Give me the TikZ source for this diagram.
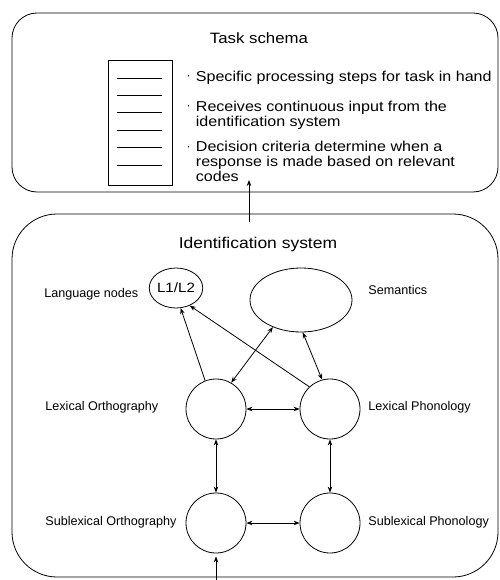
\documentclass[tikz,border=0pt]{standalone}
\usepackage{fontspec}
\setmainfont{Liberation Sans}
\newfontfamily\widesans[FakeStretch=1.12]{Liberation Sans}
\usetikzlibrary{arrows.meta,shapes.geometric}
\begin{document}
\begin{tikzpicture}[x=1pt,y=-1pt,
  line width=0.8pt,
  box/.style={draw,rounded corners=#1},
  unit/.style={draw,circle,minimum size=60pt,inner sep=0pt},
  lbl/.style={anchor=base west,inner sep=0pt,font=\fontsize{12.6}{14}\selectfont},
  head/.style={anchor=base,inner sep=0pt,font=\widesans\fontsize{#1}{15}\selectfont},
  item/.style={anchor=base west,inner sep=0pt,font=\widesans\fontsize{14.35}{15}\selectfont},
  dot/.style={anchor=base,inner sep=0pt,font=\fontsize{12}{12}\selectfont},
  tip/.style={-{Stealth[length=6pt,width=4.5pt]}},
  both/.style={{Stealth[length=6pt,width=4.5pt]}-{Stealth[length=6pt,width=4.5pt]}}]
\useasboundingbox (0,0) rectangle (499,580);

% Task schema box
\draw[box=25pt] (12,13) rectangle (498,192);
\node[head=15] (ts) at (259,43.3) {Task schema};
\draw (108,60) rectangle (172,185);
\foreach \yy in {78,95.4,112.8,130.2,147.6,165}
  \draw[line width=0.7pt] (117,\yy) -- (162,\yy);
\node[dot] (d1) at (188.5,80) {·};
\node[item] (t1) at (195.5,81.7) {Specific processing steps for task in hand};
\node[dot] (d2) at (188.5,110) {·};
\node[item] (t2a) at (195.5,111.7) {Receives continuous input from the};
\node[item] (t2b) at (195.5,126.7) {identification system};
\node[dot] (d3) at (188.5,150) {·};
\node[item] (t3a) at (195.5,151.7) {Decision criteria determine when a};
\node[item] (t3b) at (195.5,166.7) {response is made based on relevant};
\node[item] (t3c) at (195.5,181.7) {codes};

% Identification system box
\draw[box=45pt] (12,214) rectangle (498,577);
\node[head=15.6] (is) at (258,248) {Identification system};

\node[draw,ellipse,minimum width=44pt,minimum height=40pt,inner sep=0pt,
      font=\widesans\fontsize{13.5}{14}\selectfont] (lang) at (176,288) {L1/L2};
\node[draw,ellipse,minimum width=102pt,minimum height=64pt] (sem) at (301,300) {};
\node[unit] (lo) at (216,409) {};
\node[unit] (lp) at (330,409) {};
\node[unit] (so) at (216,523) {};
\node[unit] (sp) at (330,523) {};

\node[lbl] (langl) at (44,297.5) {Language nodes};
\node[lbl] (seml) at (368,294.5) {Semantics};
\node[lbl] (lol) at (45,410.5) {Lexical Orthography};
\node[lbl] (lpl) at (368,410.5) {Lexical Phonology};
\node[lbl] (sol) at (45,525) {Sublexical Orthography};
\node[lbl] (spl) at (368,525) {Sublexical Phonology};

% Connections
\draw[tip] (lo.111) -- (lang.-77);
\draw[tip] (lp.133) -- (lang.-52);
\draw[both] (lo.60) -- (sem.-136);
\draw[both] (lp.105) -- (sem.-87);
\draw[both] (lo.east) -- (lp.west);
\draw[both] (so.east) -- (sp.west);
\draw[both] (lo.south) -- (so.north);
\draw[both] (lp.south) -- (sp.north);

\coordinate (inp) at (216,580);
\draw[tip,shorten >=3pt] (inp) -- (so.south);
\coordinate (idtop) at (249,222);
\coordinate (tsin) at (249,180);
\draw[tip] (idtop) -- (tsin);
\end{tikzpicture}
\end{document}
